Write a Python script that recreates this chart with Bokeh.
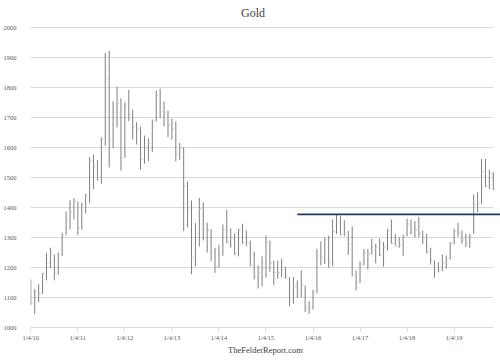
from bokeh.plotting import figure
from bokeh.models import FixedTicker, Range1d, Label
from bokeh.embed import file_html
from bokeh.resources import INLINE

# Monthly gold prices, Jan 2010 - Nov 2019 (high / low / close)
highs_2010 = [1160, 1128, 1145, 1182, 1249, 1266, 1243, 1250, 1316, 1387, 1424, 1431]
lows_2010 = [1075, 1045, 1085, 1112, 1157, 1198, 1157, 1176, 1238, 1307, 1327, 1360]
close_2010 = [1083, 1118, 1113, 1180, 1213, 1244, 1181, 1246, 1307, 1357, 1386, 1421]

highs_2011 = [1420, 1416, 1446, 1568, 1577, 1559, 1634, 1915, 1922, 1754, 1803, 1764]
lows_2011 = [1309, 1326, 1380, 1414, 1462, 1490, 1479, 1606, 1534, 1597, 1667, 1523]
close_2011 = [1332, 1409, 1439, 1556, 1536, 1500, 1628, 1827, 1624, 1715, 1746, 1565]

highs_2012 = [1751, 1792, 1726, 1684, 1670, 1640, 1631, 1693, 1790, 1796, 1753, 1723]
lows_2012 = [1566, 1688, 1627, 1610, 1526, 1546, 1555, 1585, 1687, 1698, 1670, 1634]
close_2012 = [1738, 1710, 1668, 1663, 1560, 1598, 1614, 1688, 1773, 1719, 1714, 1676]

highs_2013 = [1696, 1687, 1615, 1601, 1487, 1423, 1348, 1432, 1418, 1350, 1328, 1266]
lows_2013 = [1626, 1554, 1559, 1321, 1334, 1178, 1204, 1270, 1290, 1250, 1221, 1182]
close_2013 = [1663, 1578, 1598, 1472, 1393, 1234, 1314, 1396, 1327, 1323, 1251, 1202]

highs_2014 = [1276, 1343, 1392, 1330, 1314, 1329, 1346, 1323, 1290, 1253, 1207, 1237]
lows_2014 = [1199, 1239, 1281, 1266, 1242, 1237, 1279, 1271, 1204, 1160, 1130, 1138]
close_2014 = [1244, 1326, 1284, 1296, 1246, 1327, 1282, 1286, 1211, 1171, 1183, 1199]

highs_2015 = [1307, 1290, 1223, 1223, 1229, 1203, 1168, 1168, 1157, 1190, 1140, 1088]
lows_2015 = [1166, 1186, 1141, 1162, 1168, 1162, 1071, 1079, 1099, 1101, 1051, 1046]
close_2015 = [1283, 1213, 1183, 1183, 1190, 1172, 1095, 1135, 1115, 1142, 1065, 1061]

highs_2016 = [1126, 1262, 1287, 1300, 1306, 1360, 1377, 1372, 1357, 1322, 1337, 1190]
lows_2016 = [1060, 1114, 1207, 1212, 1199, 1205, 1312, 1308, 1304, 1242, 1170, 1123]
close_2016 = [1118, 1238, 1233, 1293, 1215, 1320, 1351, 1309, 1316, 1277, 1173, 1152]

highs_2017 = [1220, 1262, 1262, 1296, 1279, 1296, 1285, 1329, 1360, 1312, 1301, 1310]
lows_2017 = [1148, 1207, 1193, 1243, 1214, 1238, 1203, 1257, 1279, 1273, 1266, 1238]
close_2017 = [1211, 1249, 1247, 1268, 1269, 1242, 1269, 1322, 1280, 1271, 1275, 1303]

highs_2018 = [1362, 1360, 1355, 1368, 1323, 1312, 1266, 1223, 1218, 1243, 1240, 1284]
lows_2018 = [1304, 1310, 1301, 1301, 1279, 1246, 1210, 1166, 1184, 1188, 1196, 1226]
close_2018 = [1345, 1318, 1325, 1315, 1298, 1253, 1223, 1201, 1192, 1215, 1221, 1282]

highs_2019 = [1329, 1349, 1323, 1312, 1312, 1443, 1451, 1562, 1562, 1526, 1518]
lows_2019 = [1277, 1303, 1279, 1268, 1266, 1312, 1384, 1412, 1468, 1462, 1457]
close_2019 = [1321, 1313, 1292, 1283, 1305, 1409, 1413, 1520, 1472, 1513, 1463]

year_labels = ["1/4/10", "1/4/11", "1/4/12", "1/4/13", "1/4/14",
               "1/4/15", "1/4/16", "1/4/17", "1/4/18", "1/4/19"]
y_ticks = [1000, 1100, 1200, 1300, 1400, 1500, 1600, 1700, 1800, 1900, 2000]

resistance_level = 1377
resistance_start_month = 68  # Sep 2015

highs = (highs_2010 + highs_2011 + highs_2012 + highs_2013 + highs_2014 +
         highs_2015 + highs_2016 + highs_2017 + highs_2018 + highs_2019)
lows = (lows_2010 + lows_2011 + lows_2012 + lows_2013 + lows_2014 +
        lows_2015 + lows_2016 + lows_2017 + lows_2018 + lows_2019)
closes = (close_2010 + close_2011 + close_2012 + close_2013 + close_2014 +
          close_2015 + close_2016 + close_2017 + close_2018 + close_2019)
months = list(range(len(highs)))
last = len(highs) - 1

SERIF = "Liberation Serif"
GRID = "#d9d9d9"
TXT = "#595959"

PX_PER_MONTH = 3.961
x_start = -0.08
x_end = x_start + 475 / PX_PER_MONTH

p = figure(width=500, height=361, output_backend="svg", toolbar_location=None,
           x_range=Range1d(x_start, x_end),
           y_range=Range1d(1000 - 1 / 0.3, 2090),
           min_border_left=25, min_border_right=0, min_border_top=0,
           min_border_bottom=33)
p.outline_line_color = None
p.background_fill_color = "white"

# grid (drawn as segments so they stop at the last month)
p.xgrid.visible = False
p.ygrid.visible = False
p.segment(x0=[x_start - 1] * len(y_ticks), y0=y_ticks,
          x1=[last + 0.08] * len(y_ticks), y1=y_ticks,
          line_color=GRID, line_width=1)

# y axis
p.yaxis.ticker = FixedTicker(ticks=y_ticks)
p.yaxis.axis_line_color = None
p.yaxis.major_tick_line_color = None
p.yaxis.minor_tick_line_color = None
p.yaxis.major_label_standoff = 8
p.yaxis.major_label_text_font = SERIF
p.yaxis.major_label_text_font_size = "6.5px"
p.yaxis.major_label_text_color = TXT

# x axis
year_ticks = [12 * i for i in range(len(year_labels))]
p.xaxis.ticker = FixedTicker(ticks=year_ticks)
p.xaxis.major_label_overrides = {t: lab for t, lab in zip(year_ticks, year_labels)}
p.xaxis.axis_line_color = None
p.xaxis.major_tick_line_color = GRID
p.xaxis.major_tick_in = 0
p.xaxis.major_tick_out = 3
p.xaxis.minor_tick_line_color = None
p.xaxis.major_label_standoff = 2
p.xaxis.major_label_text_font = SERIF
p.xaxis.major_label_text_font_size = "6.5px"
p.xaxis.major_label_text_color = TXT
p.xaxis.axis_label = "TheFelderReport.com"
p.xaxis.axis_label_text_font = SERIF
p.xaxis.axis_label_text_font_size = "8.5px"
p.xaxis.axis_label_text_font_style = "normal"
p.xaxis.axis_label_text_color = "#404040"
p.xaxis.axis_label_standoff = 1

# high-low bars
p.segment(x0=months, y0=lows, x1=months, y1=highs, line_color="#7f7f7f", line_width=1)
# close ticks
p.scatter(x=[m + 0.25 for m in months], y=closes, marker="dash", size=2,
          line_color="#c4c4c4", line_width=1)

# resistance line
p.segment(x0=[resistance_start_month], y0=[resistance_level],
          x1=[x_end + 2], y1=[resistance_level],
          line_color="#1f3864", line_width=1.6)

title = Label(x=56.7, y=2050, text="Gold", text_align="center", text_baseline="middle",
              text_font=SERIF, text_font_size="12px", text_color="#404040")
p.add_layout(title)

open("out.html", "w").write(file_html(p, INLINE))
